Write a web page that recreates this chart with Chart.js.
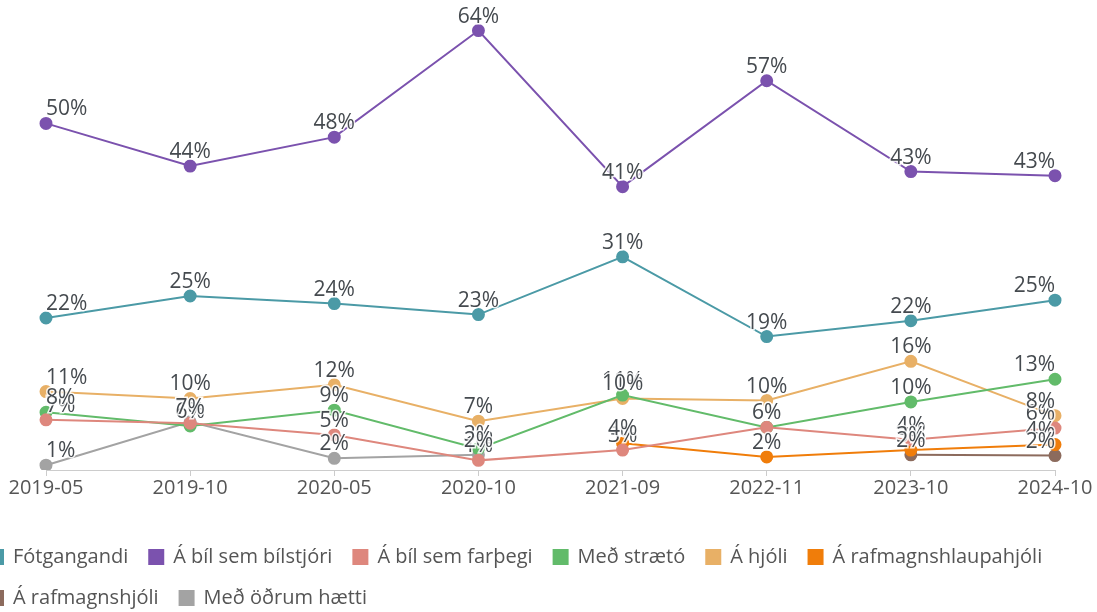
<!DOCTYPE html>
<html>
<head>
<meta charset="utf-8">
<script src="https://cdn.jsdelivr.net/npm/chart.js@4"></script>
<style>
  html, body { margin: 0; padding: 0; background: #fff; overflow: hidden; width: 1097px; height: 612px; }
  #wrap { position: absolute; left: -32px; top: 0; width: 1200px; height: 618px; }
</style>
</head>
<body>
<div id="wrap"><canvas id="ferdir"></canvas></div>
<script>
"use strict"

// tímabil mælinga
const timabil = ["2019-05", "2019-10", "2020-05", "2020-10", "2021-09", "2022-11", "2023-10", "2024-10"];

// hlutfall (%) eftir ferðamáta
const fotgangandi = [22.1, 25.3, 24.2, 22.6, 31.0, 19.4, 21.7, 24.7];
const bilstjori   = [50.4, 44.2, 48.4, 63.9, 41.2, 56.6, 43.4, 42.8];
const farthegi    = [7.3, 6.8, 5.1, 1.4, 2.9, 6.2, 4.4, 6.1];
const straeto     = [8.4, 6.4, 8.7, 3.1, 10.9, 6.2, 9.9, 13.2];
const hjoli       = [11.4, 10.4, 12.4, 7.1, 10.4, 10.1, 15.8, 7.9];
const hlaupahjol  = [null, null, null, null, 3.9, 1.9, 2.9, 3.7];
const rafhjol     = [null, null, null, null, null, null, 2.2, 2.1];
const annad       = [0.7, 7.0, 1.7, 2.2, null, null, null, null];

const FONT = "'Open Sans'";

function lina(label, data, litur) {
    return {
        label: label,
        data: data,
        borderColor: litur,
        backgroundColor: litur,
        pointBackgroundColor: litur,
        pointBorderColor: litur,
        borderWidth: 2,
        pointRadius: 5.5,
        pointHoverRadius: 5.5,
        tension: 0,
        spanGaps: false
    };
}

// prósentutölur fyrir ofan punktana
const prosentur = {
    id: "prosentur",
    afterDatasetsDraw(chart) {
        const ctx = chart.ctx;
        const svaedi = chart.chartArea;
        ctx.save();
        ctx.font = "21px " + FONT;
        ctx.textAlign = "center";
        ctx.textBaseline = "middle";
        chart.data.datasets.forEach((ds, i) => {
            const meta = chart.getDatasetMeta(i);
            meta.data.forEach((pt, j) => {
                const v = ds.data[j];
                if (v === null || v === undefined) return;
                const txt = Math.round(v) + "%";
                const w = ctx.measureText(txt).width;
                const x = Math.min(Math.max(pt.x, svaedi.left + w / 2), svaedi.right - w / 2);
                const y = pt.y - 14;
                ctx.lineWidth = 3;
                ctx.strokeStyle = "rgba(255,255,255,0.85)";
                ctx.strokeText(txt, x, y);
                ctx.fillStyle = "#454a4f";
                ctx.fillText(txt, x, y);
            });
        });
        ctx.restore();
    }
};

// ósýnilegir ásar sem halda teiknisvæðinu á sínum stað
const falinnAs = (breidd, stada) => ({
    position: stada,
    display: true,
    min: 0,
    max: 65,
    ticks: { display: false },
    grid: { display: false },
    border: { display: false },
    afterFit: (s) => { s.width = breidd; }
});

new Chart(document.getElementById("ferdir"), {
    type: "line",
    data: {
        labels: timabil,
        datasets: [
            lina("Fótgangandi", fotgangandi, "#4b9aa6"),
            lina("Á bíl sem bílstjóri", bilstjori, "#7b52ae"),
            lina("Á bíl sem farþegi", farthegi, "#de877d"),
            lina("Með strætó", straeto, "#62bb6a"),
            lina("Á hjóli", hjoli, "#e8b066"),
            lina("Á rafmagnshlaupahjóli", hlaupahjol, "#f07d0a"),
            lina("Á rafmagnshjóli", rafhjol, "#8c6b5d"),
            lina("Með öðrum hætti", annad, "#a3a3a3")
        ]
    },
    options: {
        responsive: true,
        maintainAspectRatio: false,
        animation: false,
        layout: { padding: { left: 0, right: 0, top: 23, bottom: 0 } },
        plugins: {
            tooltip: { enabled: false },
            legend: {
                position: "bottom",
                align: "start",
                labels: {
                    boxWidth: 14,
                    boxHeight: 14,
                    padding: 21,
                    color: "#555",
                    font: { family: FONT, size: 20 }
                }
            }
        },
        scales: {
            x: {
                offset: false,
                grid: { display: true, drawOnChartArea: false, drawTicks: true, tickLength: 6, color: "#cccccc" },
                border: { color: "#cccccc" },
                ticks: { color: "#555", font: { family: FONT, size: 20 }, padding: 0, maxRotation: 0, autoSkip: false },
                afterFit: (s) => { s.height = 56; }
            },
            y: falinnAs(78, "left"),
            yr: falinnAs(113, "right")
        }
    },
    plugins: [prosentur]
});
</script>
</body>
</html>
